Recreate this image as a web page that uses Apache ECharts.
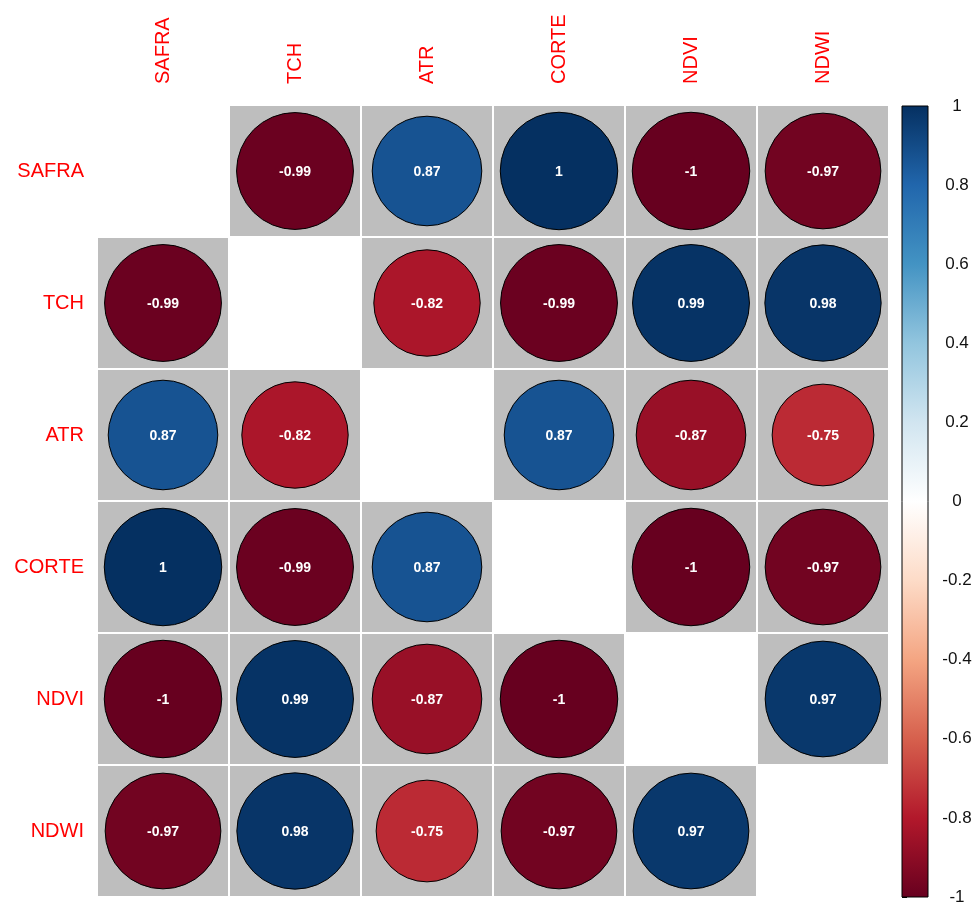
<!DOCTYPE html>
<html>
<head>
<meta charset="utf-8">
<script src="https://cdn.jsdelivr.net/npm/echarts@6/dist/echarts.min.js"></script>
<style>
html,body{margin:0;padding:0;background:#fff;}
#chart{width:978px;height:906px;}
</style>
</head>
<body>
<div id="chart"></div>
<script>
const variables = ['SAFRA', 'TCH', 'ATR', 'CORTE', 'NDVI', 'NDWI'];
const rowSAFRA = [1, -0.99, 0.87, 1, -1, -0.97];
const rowTCH   = [-0.99, 1, -0.82, -0.99, 0.99, 0.98];
const rowATR   = [0.87, -0.82, 1, 0.87, -0.87, -0.75];
const rowCORTE = [1, -0.99, 0.87, 1, -1, -0.97];
const rowNDVI  = [-1, 0.99, -0.87, -1, 1, 0.97];
const rowNDWI  = [-0.97, 0.98, -0.75, -0.97, 0.97, 1];
const colorbarTicks = [-1, -0.8, -0.6, -0.4, -0.2, 0, 0.2, 0.4, 0.6, 0.8, 1];
const colorbarRange = [-1, 1];
const palette = ['#67001F', '#B2182B', '#D6604D', '#F4A582', '#FDDBC7', '#FFFFFF',
                 '#D1E5F0', '#92C5DE', '#4393C3', '#2166AC', '#053061'];

const rows = [rowSAFRA, rowTCH, rowATR, rowCORTE, rowNDVI, rowNDWI];
const bgData = [];
const circleData = [];
rows.forEach((row, r) => {
  row.forEach((v, c) => {
    if (r !== c) {
      bgData.push([c, r]);
      circleData.push([c, r, v]);
    }
  });
});

const FONT = "'Liberation Sans', Arial, sans-serif";
const chart = echarts.init(document.getElementById('chart'), null, {renderer: 'canvas'});

const option = {
  animation: false,
  backgroundColor: '#ffffff',
  grid: [
    {left: 97, top: 105, width: 792, height: 792},
    {left: 902, top: 106, width: 26, height: 791}
  ],
  xAxis: [
    {
      gridIndex: 0, type: 'category', data: variables, position: 'top',
      axisLine: {show: false}, axisTick: {show: false}, splitLine: {show: false},
      axisLabel: {rotate: -90, color: '#FF0000', fontSize: 20, fontFamily: FONT, margin: 21}
    },
    {gridIndex: 1, type: 'value', min: 0, max: 1, show: false}
  ],
  yAxis: [
    {
      gridIndex: 0, type: 'category', data: variables, inverse: true,
      axisLine: {show: false}, axisTick: {show: false}, splitLine: {show: false},
      axisLabel: {color: '#FF0000', fontSize: 20, fontFamily: FONT, margin: 13}
    },
    {
      gridIndex: 1, type: 'value', min: colorbarRange[0], max: colorbarRange[1], interval: 0.2,
      position: 'right',
      axisLine: {show: false},
      splitLine: {show: false},
      axisTick: {show: true, length: 5, lineStyle: {color: '#000', width: 1}},
      axisLabel: {
        color: '#111', fontSize: 17, fontFamily: FONT, margin: 29, align: 'center',
        formatter: v => String(+(+v).toFixed(1))
      }
    }
  ],
  visualMap: {
    show: false, type: 'continuous', min: -1, max: 1, dimension: 2, seriesIndex: 1,
    inRange: {color: palette}
  },
  series: [
    {
      type: 'custom', xAxisIndex: 0, yAxisIndex: 0, data: bgData, silent: true,
      renderItem: function (params, api) {
        const c = api.coord([api.value(0), api.value(1)]);
        const s = api.size([1, 1]);
        return {
          type: 'rect',
          shape: {x: c[0] - s[0] / 2 + 1, y: c[1] - s[1] / 2 + 1, width: s[0] - 2, height: s[1] - 2},
          style: {fill: '#BEBEBE'}
        };
      }
    },
    {
      type: 'custom', xAxisIndex: 0, yAxisIndex: 0, data: circleData, silent: true,
      renderItem: function (params, api) {
        const c = api.coord([api.value(0), api.value(1)]);
        const s = api.size([1, 1]);
        const v = api.value(2);
        const r = 0.445 * Math.sqrt(Math.abs(v)) * s[0];
        return {
          type: 'group',
          children: [
            {
              type: 'circle',
              shape: {cx: c[0], cy: c[1], r: r},
              style: {fill: api.visual('color'), stroke: '#000', lineWidth: 1}
            },
            {
              type: 'text',
              style: {
                x: c[0], y: c[1] + 1, text: String(v), fill: '#fff',
                font: 'bold 14px ' + FONT, align: 'center', verticalAlign: 'middle'
              }
            }
          ]
        };
      }
    },
    {
      type: 'custom', xAxisIndex: 1, yAxisIndex: 1, data: [[0, colorbarRange[1], 1, colorbarRange[0]]], silent: true,
      renderItem: function (params, api) {
        const p1 = api.coord([api.value(0), api.value(1)]);
        const p2 = api.coord([api.value(2), api.value(3)]);
        const stops = palette.map((col, i) => ({offset: i / (palette.length - 1), color: col}));
        return {
          type: 'rect',
          shape: {x: p1[0], y: p1[1], width: p2[0] - p1[0], height: p2[1] - p1[1]},
          style: {
            fill: new echarts.graphic.LinearGradient(0, 1, 0, 0, stops),
            stroke: '#000', lineWidth: 1
          }
        };
      }
    }
  ]
};
chart.setOption(option);
</script>
</body>
</html>
